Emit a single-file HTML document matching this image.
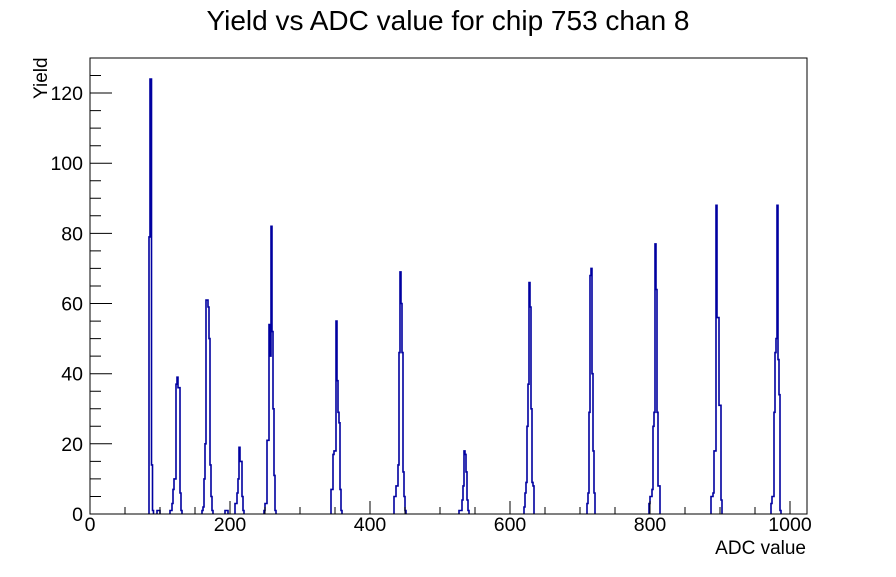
<!DOCTYPE html>
<html><head><meta charset="utf-8"><style>
body{margin:0;background:#fff}
svg text{font-family:"Liberation Sans",sans-serif}
</style></head><body>
<svg id="s" width="896" height="572" xmlns="http://www.w3.org/2000/svg">
<rect width="896" height="572" fill="#fff"/>
<text x="448" y="30" font-size="28" text-anchor="middle">Yield vs ADC value for chip 753 chan 8</text>
<g id="peaks" fill="none" stroke="#0000a0" stroke-width="1.6"></g>
<g id="ax" stroke="#000" stroke-width="1" fill="none"></g>
<rect x="90" y="58" width="717" height="456" fill="none" stroke="#000" stroke-width="1"/>
<g id="lab" font-size="19.5"></g>
<text x="806" y="554" font-size="19" text-anchor="end">ADC value</text>
<text transform="translate(47,99) rotate(-90)" font-size="19" text-anchor="start">Yield</text>
</svg>
<script>
var NS="http://www.w3.org/2000/svg";
function Y(v){return 514-v*3.508;}
var peaks=[
[[149,79],[150,124],[151.5,14],[152.5,1],[153.5,0]],
[[157,1],[160,0]],
[[170,1],[172,3],[173,7],[174,10],[176,37],[177,39],[178,36],[180,6],[181,1],[182,0]],
[[202,1],[203,2],[204,10],[205,20],[206,61],[208,59],[209,50],[210,14],[211,5],[212,1],[213,0]],
[[225,1],[228,0]],
[[235,3],[237,6],[238,10],[239,19],[240,15],[241,15],[242,5],[243,1],[244,0]],
[[264,1],[265,3],[267,21],[269,54],[270,45],[271,82],[272,52],[273,30],[274,11],[275,1],[276,0]],
[[331,7],[333,17],[334,18],[336,55],[337,38],[338,29],[339,26],[340,7],[341,1],[342,0]],
[[394,5],[396,8],[398,14],[399,46],[400,69],[401,60],[402,46],[403,12],[404,5],[405,1],[406,0]],
[[459,1],[462,4],[463,8],[464,18],[465,17],[466,12],[467,4],[468,1],[469,0]],
[[524,2],[525,6],[526,9],[527,25],[528,37],[529,66],[530,59],[531,30],[532,9],[533,8],[534,0]],
[[587,3],[588,6],[589,29],[590,68],[591,70],[592,40],[593,18],[594,6],[595,0]],
[[649,3],[650,5],[652,7],[653,25],[654,29],[655,77],[656,64],[657,29],[658,8],[660,0]],
[[711,5],[713,6],[714,18],[716,88],[717,56],[719,31],[721,4],[722,0]],
[[771,3],[772,5],[774,29],[775,46],[776,50],[777,88],[778,44],[779,34],[780,1],[781,0]]
];
var g=document.getElementById('peaks');
peaks.forEach(function(p){
 var d="M"+p[0][0]+" 514";
 for(var i=0;i<p.length;i++){
  d+=" V"+Y(p[i][1]).toFixed(1);
  if(i<p.length-1)d+=" H"+p[i+1][0];
 }
 var e=document.createElementNS(NS,'path');e.setAttribute('d',d);g.appendChild(e);
});
var ax=document.getElementById('ax'),lab=document.getElementById('lab'),d="";
for(var u=0;u<=1020;u+=50){var x=90+u*0.7;d+="M"+x+" 514 V"+(u%200==0?501:507)+" ";
 if(u%200==0){var t=document.createElementNS(NS,'text');t.setAttribute('x',x);t.setAttribute('y',531);t.setAttribute('text-anchor','middle');t.textContent=u;lab.appendChild(t);}}
for(var v=0;v<=130;v+=5){var y=Y(v);d+="M90 "+y.toFixed(1)+" H"+(v%20==0?112:101)+" ";
 if(v%20==0){var t=document.createElementNS(NS,'text');t.setAttribute('x',83);t.setAttribute('y',(y+7).toFixed(1));t.setAttribute('text-anchor','end');t.textContent=v;lab.appendChild(t);}}
var e=document.createElementNS(NS,'path');e.setAttribute('d',d);ax.appendChild(e);
</script>
</body></html>
